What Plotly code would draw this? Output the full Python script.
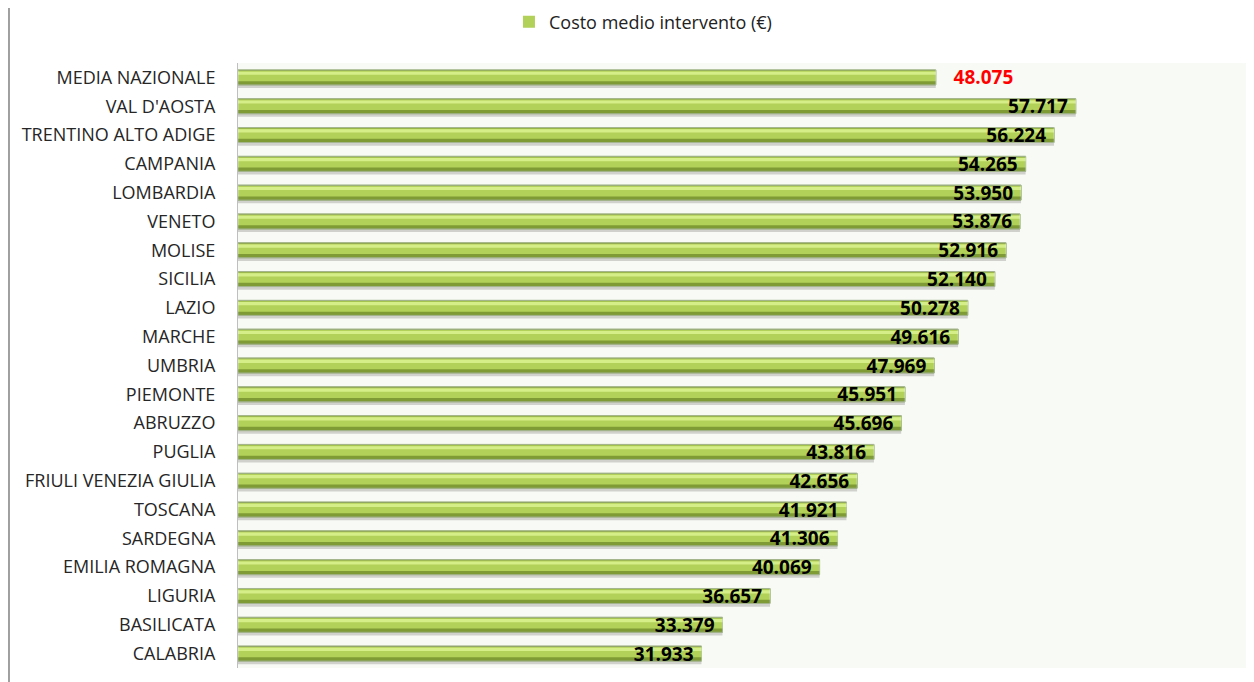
import plotly.graph_objects as go

categories = ["MEDIA NAZIONALE", "VAL D'AOSTA", "TRENTINO ALTO ADIGE", "CAMPANIA", "LOMBARDIA",
              "VENETO", "MOLISE", "SICILIA", "LAZIO", "MARCHE", "UMBRIA", "PIEMONTE", "ABRUZZO",
              "PUGLIA", "FRIULI VENEZIA GIULIA", "TOSCANA", "SARDEGNA", "EMILIA ROMAGNA",
              "LIGURIA", "BASILICATA", "CALABRIA"]
values = [48075, 57717, 56224, 54265, 53950, 53876, 52916, 52140, 50278, 49616, 47969,
          45951, 45696, 43816, 42656, 41921, 41306, 40069, 36657, 33379, 31933]
series_name = "Costo medio intervento (€)"

fig = go.Figure()

# layered bars to imitate the bevelled 3D look
layers = [
    # (color, width, offset, line color, show legend)
    ("rgba(0,0,0,0.16)", 0.52, -0.15, None, False),
    ("#7f9b36", 0.52, -0.26, "#66802a", False),
    ("#b2d158", 0.36, -0.23, None, True),
    ("#d5ee88", 0.11, -0.20, None, False),
]
for color, w, off, lc, show in layers:
    fig.add_trace(go.Bar(
        y=categories, x=values, orientation="h", name=series_name,
        marker=dict(color=color, line=dict(color=lc or color, width=1 if lc else 0)),
        width=w, offset=off, showlegend=show, hoverinfo="skip",
    ))

# text layer (regions)
fig.add_trace(go.Bar(
    y=categories[1:], x=values[1:], orientation="h", name=series_name,
    marker=dict(color="rgba(0,0,0,0)"), width=0.52, offset=-0.26,
    texttemplate="<b>%{x:,}</b>\u00a0", textposition="inside", insidetextanchor="end",
    constraintext="none",
    textfont=dict(family="Open Sans", size=19, color="black"),
    showlegend=False,
))
# text layer (national average, red, outside)
fig.add_trace(go.Bar(
    y=categories[:1], x=values[:1], orientation="h", name=series_name,
    marker=dict(color="rgba(0,0,0,0)"), width=0.52, offset=-0.26,
    texttemplate="\u00a0\u00a0\u00a0<b>%{x:,}</b>", textposition="outside", cliponaxis=False,
    constraintext="none",
    textfont=dict(family="Open Sans", size=19, color="#ff0000"),
    showlegend=False,
))

fig.update_layout(
    width=1246, height=674,
    margin=dict(l=230, r=0, t=55, b=14, autoexpand=False),
    paper_bgcolor="white", plot_bgcolor="#f8faf5",
    separators=",.",
    barmode="overlay",
    font=dict(family="Open Sans", color="#222222"),
    legend=dict(orientation="h", xref="container", yref="container",
                x=0.5096, xanchor="center", y=0.979, yanchor="middle",
                font=dict(size=18, color="#222222"), bgcolor="rgba(0,0,0,0)",
                itemwidth=30),
    xaxis=dict(range=[0, 70000], showgrid=False, zeroline=False, showticklabels=False,
               ticks="", automargin=False),
    yaxis=dict(categoryorder="array", categoryarray=categories, autorange="reversed",
               showline=True, linecolor="#bfbfbf", linewidth=1, ticks="",
               tickfont=dict(size=18, color="#262626"), ticklabelstandoff=18,
               automargin=False),
    shapes=[dict(type="line", xref="paper", yref="paper", x0=-0.2254, x1=-0.2254,
                 y0=-0.05, y1=1.12, line=dict(color="#808080", width=1.5))],
)

fig.write_html("out.html")
